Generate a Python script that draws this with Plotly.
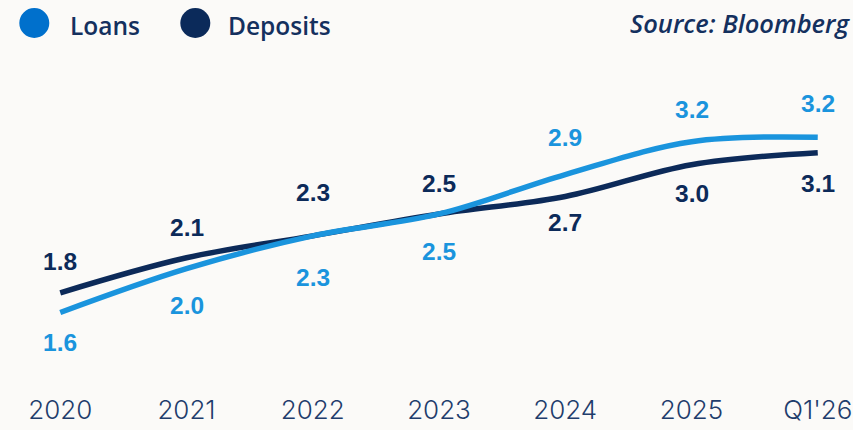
import plotly.graph_objects as go

categories = ["2020", "2021", "2022", "2023", "2024", "2025", "Q1'26"]
loans = [1.6, 2.0, 2.3, 2.5, 2.86, 3.16, 3.2]
deposits = [1.78, 2.1, 2.3, 2.5, 2.66, 2.95, 3.06]
series_names = ["Loans", "Deposits"]
source_text = "Source: Bloomberg"

# label offsets in pixels (positive = below the line)
loans_label_shift = [30, 37, 42, 38, -37, -32, -34]
deposits_label_shift = [-31, -30, -43, -30, 26, 29, 31]

LOAN_LINE = "#1a94dd"
DEP_LINE = "#0c2a59"
LOAN_LEG = "#0070cc"
DEP_LEG = "#0b2a5a"
TEXT_NAVY = "#14305e"
TICK_COL = "#1f3d6c"
BG = "#fbfaf8"

W, H = 853, 430
ML, MR, MT, MB = 34.7, 9.7, 93, 38
px_per_unit = 109.5
v_ref, px_ref = 1.6, 312.5
y_top = v_ref + (px_ref - MT) / px_per_unit
y_bot = v_ref - (H - MB - px_ref) / px_per_unit

fig = go.Figure()
fig.add_trace(go.Scatter(
    x=categories, y=deposits, name=series_names[1], mode="lines",
    line=dict(color=DEP_LINE, width=5.5, shape="spline", smoothing=1.0),
    showlegend=False, hoverinfo="x+y"))
fig.add_trace(go.Scatter(
    x=categories, y=loans, name=series_names[0], mode="lines",
    line=dict(color=LOAN_LINE, width=5.5, shape="spline", smoothing=1.0),
    showlegend=False, hoverinfo="x+y"))

annotations = []
label_font = dict(family="Liberation Sans, Arial, sans-serif", size=24.5)
for i, (v, s) in enumerate(zip(loans, loans_label_shift)):
    annotations.append(dict(x=i, y=v, xref="x", yref="y", text=f"{v:.1f}",
                            showarrow=False, yshift=-s,
                            font=dict(**label_font, color=LOAN_LINE, weight="bold")))
for i, (v, s) in enumerate(zip(deposits, deposits_label_shift)):
    annotations.append(dict(x=i, y=v, xref="x", yref="y", text=f"{v:.1f}",
                            showarrow=False, yshift=-s,
                            font=dict(**label_font, color=DEP_LINE, weight="bold")))

# custom legend (large circles)
legend_items = [(series_names[0], LOAN_LEG, 34, 68), (series_names[1], DEP_LEG, 195, 226)]
shapes = []
for name, col, cx, tx in legend_items:
    shapes.append(dict(type="circle", xref="paper", yref="paper",
                       xsizemode="pixel", ysizemode="pixel",
                       xanchor=0, yanchor=1,
                       x0=cx - ML - 15, x1=cx - ML + 15,
                       y0=(MT - 23) - 15, y1=(MT - 23) + 15,
                       fillcolor=col, line=dict(width=0)))
    annotations.append(dict(x=0, y=1, xref="paper", yref="paper",
                            xanchor="left", yanchor="middle",
                            xshift=tx - ML, yshift=MT - 25,
                            text=name, showarrow=False,
                            font=dict(family="Open Sans, sans-serif", size=24.5,
                                      color=TEXT_NAVY, weight=600)))

annotations.append(dict(x=0, y=1, xref="paper", yref="paper",
                        xanchor="left", yanchor="middle",
                        xshift=628 - ML, yshift=MT - 23,
                        text=source_text, showarrow=False,
                        font=dict(family="Open Sans, sans-serif", size=25.5,
                                  color=TEXT_NAVY, weight=600, style="italic")))

fig.update_layout(
    width=W, height=H,
    margin=dict(l=ML, r=MR, t=MT, b=MB, pad=0, autoexpand=False),
    paper_bgcolor=BG, plot_bgcolor=BG,
    showlegend=False,
    annotations=annotations,
    shapes=shapes,
    xaxis=dict(type="category", range=[-0.2, 6.2], showgrid=False, zeroline=False,
               showline=False, ticks="", automargin=False,
               tickfont=dict(family="Inter, sans-serif", size=26,
                             color=TICK_COL, weight=300)),
    yaxis=dict(range=[y_bot, y_top], visible=False, automargin=False),
)

fig.write_html("out.html", config={"displayModeBar": False},
               post_script="document.body.style.margin='0';")
